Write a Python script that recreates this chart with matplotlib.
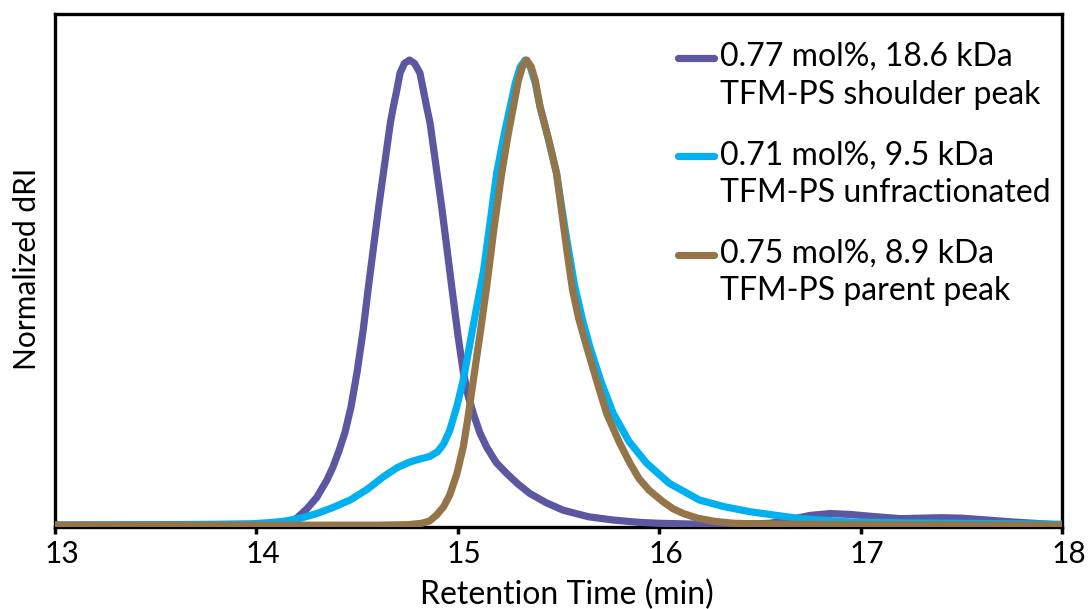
import numpy as np
import matplotlib
matplotlib.use("Agg")
import matplotlib.pyplot as plt
from matplotlib.legend_handler import HandlerLine2D
from matplotlib.transforms import ScaledTranslation

plt.rcParams['font.family'] = ['Lato', 'DejaVu Sans']

# ---- data ----
shoulder_t = [13.0, 13.5, 14.0, 14.1, 14.15, 14.2, 14.25, 14.3, 14.35, 14.38, 14.41, 14.44,
              14.47, 14.5, 14.53, 14.556, 14.607, 14.665, 14.68, 14.697, 14.713, 14.735,
              14.76, 14.785, 14.812, 14.829, 14.845, 14.862, 14.92, 14.97, 15.0, 15.027,
              15.05, 15.077, 15.11, 15.143, 15.19, 15.243, 15.3, 15.358, 15.44, 15.524, 15.65,
              15.772, 15.9, 16.0, 16.2, 16.4, 16.55, 16.65, 16.75, 16.85, 16.95, 17.05, 17.2,
              17.3, 17.4, 17.5, 17.6, 17.75, 17.9, 18.0]
shoulder_v = [0.0, 0.0, 0.0, 0.001, 0.004, 0.015, 0.035, 0.06, 0.097, 0.125, 0.16, 0.2,
              0.255, 0.33, 0.419, 0.512, 0.684, 0.865, 0.90, 0.935, 0.972, 0.993,
              1.0, 0.993, 0.972, 0.935, 0.90, 0.865, 0.684, 0.512, 0.41, 0.33,
              0.28, 0.24, 0.198, 0.168, 0.135, 0.111, 0.088, 0.068, 0.048, 0.032, 0.018,
              0.011, 0.006, 0.004, 0.002, 0.002, 0.004, 0.012, 0.021, 0.025, 0.023, 0.019, 0.014,
              0.015, 0.016, 0.015, 0.012, 0.007, 0.003, 0.0]

unfrac_t = [13.0, 13.5, 13.8, 13.97, 14.05, 14.13, 14.22, 14.3, 14.38, 14.465, 14.55, 14.63,
            14.70, 14.763, 14.81, 14.862, 14.9, 14.93, 14.96, 14.995, 15.027, 15.06, 15.094,
            15.127, 15.16, 15.193, 15.23, 15.26, 15.285, 15.31, 15.334, 15.36, 15.385, 15.408,
            15.45, 15.49, 15.535, 15.58, 15.62, 15.656, 15.71, 15.772, 15.85, 15.938, 16.05,
            16.2, 16.32, 16.45, 16.7, 16.95, 17.2, 17.5, 18.0]
unfrac_v = [0.0, 0.001, 0.002, 0.003, 0.005, 0.008, 0.015, 0.025, 0.038, 0.054, 0.077, 0.104,
            0.124, 0.136, 0.142, 0.148, 0.158, 0.175, 0.204, 0.255, 0.312, 0.39, 0.47,
            0.545, 0.65, 0.757, 0.84, 0.9, 0.95, 0.985, 1.0, 0.985, 0.95, 0.9,
            0.83, 0.757, 0.63, 0.515, 0.44, 0.383, 0.31, 0.24, 0.18, 0.133, 0.09,
            0.054, 0.04, 0.029, 0.014, 0.007, 0.005, 0.004, 0.002]

parent_t = [13.0, 14.0, 14.6, 14.75, 14.82, 14.86, 14.895, 14.93, 14.96, 14.995, 15.027,
            15.05, 15.077, 15.11, 15.143, 15.18, 15.218, 15.25, 15.276, 15.30, 15.32, 15.342,
            15.365, 15.385, 15.408, 15.45, 15.49, 15.52, 15.545, 15.57, 15.6, 15.64, 15.69,
            15.739, 15.8, 15.855, 15.9, 15.95, 16.02, 16.07, 16.12, 16.19, 16.28, 16.37, 16.6,
            17.0, 18.0]
parent_v = [0.0, 0.0, 0.0, 0.001, 0.004, 0.009, 0.022, 0.04, 0.065, 0.11, 0.168,
            0.23, 0.312, 0.41, 0.512, 0.64, 0.757, 0.84, 0.9, 0.955, 0.985, 1.0,
            0.985, 0.955, 0.9, 0.83, 0.757, 0.66, 0.58, 0.505, 0.445, 0.383, 0.31,
            0.24, 0.18, 0.133, 0.1, 0.075, 0.05, 0.035, 0.025, 0.015, 0.008, 0.004, 0.002,
            0.001, 0.0]

labels = ["0.77 mol%, 18.6 kDa\nTFM-PS shoulder peak",
          "0.71 mol%, 9.5 kDa\nTFM-PS unfractionated",
          "0.75 mol%, 8.9 kDa\nTFM-PS parent peak"]
colors = ["#5B57A0", "#00B0F0", "#937549"]
xticks = [13, 14, 15, 16, 17, 18]

fig = plt.figure(figsize=(10.9, 6.09), dpi=100)
ax = fig.add_axes([0.0505, 0.1346, 0.9238, 0.8424])

lw = 5.2
kw = dict(lw=lw, solid_joinstyle='round', solid_capstyle='round')
l1, = ax.plot(shoulder_t, shoulder_v, color=colors[0], label=labels[0], zorder=3, **kw)
l2, = ax.plot(unfrac_t, unfrac_v, color=colors[1], label=labels[1], zorder=4, **kw)
l3, = ax.plot(parent_t, parent_v, color=colors[2], label=labels[2], zorder=5, **kw)

ax.set_xlim(13, 18)
ax.set_ylim(-0.004, 1.099)
ax.set_xticks(xticks)
ax.set_xticklabels([str(t) for t in xticks])
ax.set_yticks([])
ax.tick_params(axis='x', direction='out', length=5, width=2.5, labelsize=21.5, pad=4, color='black')
shift = ScaledTranslation(0.065, 0, fig.dpi_scale_trans)
for lab in ax.get_xticklabels():
    lab.set_transform(lab.get_transform() + shift)
for s in ax.spines.values():
    s.set_linewidth(2.4)
    s.set_color('black')

ax.set_xlabel("Retention Time (min)", fontsize=23)
ax.set_ylabel("Normalized dRI", fontsize=21.5)
ax.xaxis.label.set_va('center')
ax.yaxis.label.set_va('center')
ax.xaxis.set_label_coords(0.508, -0.1326)
ax.yaxis.set_label_coords(-0.0278, 0.504)


class UpHandler(HandlerLine2D):
    def create_artists(self, legend, orig_handle, xdescent, ydescent, width, height, fontsize, trans):
        arts = super().create_artists(legend, orig_handle, xdescent, ydescent, width, height, fontsize, trans)
        for a in arts:
            a.set_ydata(np.asarray(a.get_ydata(), dtype=float) + 0.57 * fontsize)
        return arts


leg = ax.legend(handles=[l1, l2, l3], loc='upper left', bbox_to_anchor=(0.622, 0.931),
                bbox_transform=fig.transFigure, frameon=False, fontsize=23,
                handlelength=1.13, handletextpad=0.19, labelspacing=0.95,
                borderpad=0, borderaxespad=0,
                handler_map={l1: UpHandler(), l2: UpHandler(), l3: UpHandler()})
for line in leg.get_lines():
    line.set_linewidth(5.2)
    line.set_solid_capstyle('round')
for t in leg.get_texts():
    t.set_linespacing(1.32)

fig.savefig("out.png", dpi=100)
